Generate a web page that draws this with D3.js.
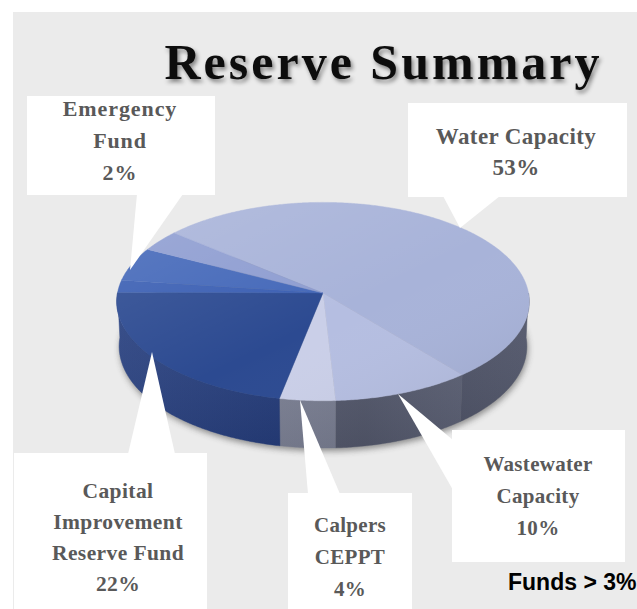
<!DOCTYPE html>
<html>
<head>
<meta charset="utf-8">
<script src="https://cdn.jsdelivr.net/npm/d3@7/dist/d3.min.js"></script>
<style>
  html, body { margin: 0; padding: 0; background: #ffffff; }
  svg { display: block; }
</style>
</head>
<body>
<script>
// Reserve fund shares (percent of total reserves), drawn clockwise from the first slice
const categories = [
  "Water Capacity",
  "Wastewater Capacity",
  "Calpers CEPPT",
  "Capital Improvement Reserve Fund",
  "Emergency Fund",
  "Other Reserves",
  "Other Designated Funds"
];
const shares = [53, 10, 4, 22, 2, 5.5, 3.5];
// Callout text for each slice (null = no callout)
const labelLines = [
  ["Water Capacity"],
  ["Wastewater", "Capacity"],
  ["Calpers", "CEPPT"],
  ["Capital", "Improvement", "Reserve Fund"],
  ["Emergency", "Fund"],
  null,
  null
];
const titleText = "Reserve Summary";
const noteText = "Funds > 3%";

// ---- styling ----
const topColors  = ["#a8b3d9", "#b5bee1", "#cacfe8", "#2c4a91", "#3b5fb3", "#4468b9", "#8e9dd1"];
const wallColors = ["#4b5065", "#585d72", "#80859a", "#223b7d", "#2a4a95", "#3050a0", "#5a6aa8"];
const serif = "'Liberation Serif', 'DejaVu Serif', serif";

// callout boxes: [x0, y0, x1, y1], pointer base points and tip, text centre / baselines / size
const callouts = {
  0: { box: [408, 103, 627, 197], base: [[443, 196], [500, 196]], tip: [460, 228], tx: 516, ty: 144, gap: 31, size: 23, ls: 0.4 },
  1: { box: [452, 430, 625, 562], base: [[453, 440], [453, 490]], tip: [398, 394], tx: 538, ty: 471, gap: 32, size: 21, ls: 0.3 },
  2: { box: [288, 493, 412, 612], base: [[308, 494], [340, 494]], tip: [300, 400], tx: 350, ty: 532, gap: 32, size: 21, ls: 0.3 },
  3: { box: [14, 453, 207, 612], base: [[128, 454], [175, 454]], tip: [152, 352], tx: 118, ty: 498, gap: 31, size: 21.5, ls: 0.4 },
  4: { box: [27, 96, 215, 195], base: [[137, 194], [183, 194]], tip: [130, 270], tx: 120, ty: 116, gap: 32, size: 22, ls: 0.9 }
};

const W = 637, H = 609;
const svg = d3.select("body").append("svg").attr("width", W).attr("height", H);
const defs = svg.append("defs");

// title drop shadow
const ts = defs.append("filter").attr("id", "titleShadow")
  .attr("x", "-10%").attr("y", "-30%").attr("width", "120%").attr("height", "160%");
ts.append("feDropShadow").attr("dx", 2).attr("dy", 3).attr("stdDeviation", 2)
  .attr("flood-color", "#000").attr("flood-opacity", 0.45);

// soft shadow under the pie
const sh = defs.append("filter").attr("id", "pieShadow")
  .attr("x", "-20%").attr("y", "-20%").attr("width", "140%").attr("height", "140%");
sh.append("feGaussianBlur").attr("stdDeviation", 3);

// lighting across the top face
const topGrad = defs.append("linearGradient").attr("id", "topLight")
  .attr("x1", "0%").attr("y1", "0%").attr("x2", "100%").attr("y2", "100%");
topGrad.append("stop").attr("offset", "0%").attr("stop-color", "#fff").attr("stop-opacity", 0.14);
topGrad.append("stop").attr("offset", "55%").attr("stop-color", "#fff").attr("stop-opacity", 0.0);
topGrad.append("stop").attr("offset", "100%").attr("stop-color", "#000").attr("stop-opacity", 0.07);

// shading along the outer wall
const wallGrad = defs.append("linearGradient").attr("id", "wallLight")
  .attr("x1", "0%").attr("y1", "0%").attr("x2", "100%").attr("y2", "0%");
wallGrad.append("stop").attr("offset", "0%").attr("stop-color", "#fff").attr("stop-opacity", 0.06);
wallGrad.append("stop").attr("offset", "60%").attr("stop-color", "#000").attr("stop-opacity", 0.06);
wallGrad.append("stop").attr("offset", "100%").attr("stop-color", "#fff").attr("stop-opacity", 0.04);
const wallV = defs.append("linearGradient").attr("id", "wallVert")
  .attr("x1", "0%").attr("y1", "0%").attr("x2", "0%").attr("y2", "100%");
wallV.append("stop").attr("offset", "0%").attr("stop-color", "#fff").attr("stop-opacity", 0.05);
wallV.append("stop").attr("offset", "100%").attr("stop-color", "#000").attr("stop-opacity", 0.08);

// panel background
svg.append("rect").attr("x", 13).attr("y", 12).attr("width", W - 13).attr("height", H - 12)
  .attr("fill", "#ebebeb");

// title
svg.append("text")
  .attr("x", 382).attr("y", 79)
  .attr("text-anchor", "middle")
  .attr("font-family", serif)
  .attr("font-weight", "bold")
  .attr("font-size", 50)
  .attr("textLength", 435)
  .attr("lengthAdjust", "spacing")
  .attr("fill", "#111")
  .attr("filter", "url(#titleShadow)")
  .text(titleText);

// ---- 3D pie: disc of radius 1 seen in perspective ----
const cx = 323, cy = 293, k = 2090, D = 10.17;
const tilt = Math.asin(0.479);
const s = Math.sin(tilt), c = Math.cos(tilt);
const thick = 0.25;

// angle t: clockwise from 12 o'clock (d3.pie convention); Y: height above the base
function project(t, Y, r = 1) {
  const X = r * Math.sin(t), Z = -r * Math.cos(t);
  const v = Z * s - Y * c;
  const w = D - Z * c - Y * s;
  return [cx + k * X / w, cy + k * v / w];
}
function arcPoints(a0, a1, Y) {
  const n = Math.max(2, Math.ceil(Math.abs(a1 - a0) / (Math.PI / 360)));
  return d3.range(n + 1).map(i => project(a0 + (a1 - a0) * i / n, Y));
}
const line = d3.line();

const start = -50 * Math.PI / 180;
const pie = d3.pie().sort(null).value(d => d)
  .startAngle(start).endAngle(start + 2 * Math.PI);
const arcs = pie(shares);

const g = svg.append("g");

// shadow under the base
g.append("path")
  .attr("d", line(arcPoints(0, 2 * Math.PI, -thick)) + "Z")
  .attr("transform", "translate(1,3)")
  .attr("fill", "#3a3a3a").attr("opacity", 0.55)
  .attr("filter", "url(#pieShadow)");

// outer walls (front half only)
const frontA = Math.PI / 2, frontB = 3 * Math.PI / 2;
arcs.forEach((a, i) => {
  const a0 = Math.max(a.startAngle, frontA), a1 = Math.min(a.endAngle, frontB);
  if (a1 <= a0) return;
  const pts = arcPoints(a0, a1, 0).concat(arcPoints(a1, a0, -thick));
  g.append("path").attr("d", line(pts) + "Z")
    .attr("fill", wallColors[i]).attr("stroke", wallColors[i]).attr("stroke-width", 0.4);
});
const wallAll = arcPoints(frontA, frontB, 0).concat(arcPoints(frontB, frontA, -thick));
g.append("path").attr("d", line(wallAll) + "Z").attr("fill", "url(#wallLight)");
g.append("path").attr("d", line(wallAll) + "Z").attr("fill", "url(#wallVert)");

// top faces
const apex = project(0, 0, 0);
arcs.forEach((a, i) => {
  const pts = [apex].concat(arcPoints(a.startAngle, a.endAngle, 0));
  g.append("path").attr("d", line(pts) + "Z")
    .attr("fill", topColors[i]).attr("stroke", topColors[i]).attr("stroke-width", 0.4);
});
g.append("path").attr("d", line(arcPoints(0, 2 * Math.PI, 0)) + "Z").attr("fill", "url(#topLight)");

// ---- callouts ----
const cg = svg.append("g");
arcs.forEach((a, i) => {
  const co = callouts[i];
  if (!co || !labelLines[i]) return;
  const [x0, y0, x1, y1] = co.box;
  cg.append("rect").attr("x", x0).attr("y", y0).attr("width", x1 - x0).attr("height", y1 - y0)
    .attr("fill", "#ffffff");
  cg.append("path").attr("d", line([co.base[0], co.tip, co.base[1]]) + "Z").attr("fill", "#ffffff");
  const lines = labelLines[i].concat([d3.format("d")(a.data) + "%"]);
  const t = cg.append("text")
    .attr("text-anchor", "middle")
    .attr("font-family", serif)
    .attr("font-weight", "bold")
    .attr("font-size", co.size)
    .attr("letter-spacing", co.ls)
    .attr("fill", "#595959");
  lines.forEach((l, j) => {
    t.append("tspan").attr("x", co.tx).attr("y", co.ty + j * co.gap).text(l);
  });
});

// footnote
svg.append("text")
  .attr("x", 508).attr("y", 590)
  .attr("font-family", "'Liberation Sans', Arial, sans-serif")
  .attr("font-weight", "bold")
  .attr("font-size", 23)
  .attr("fill", "#000")
  .text(noteText);
</script>
</body>
</html>
